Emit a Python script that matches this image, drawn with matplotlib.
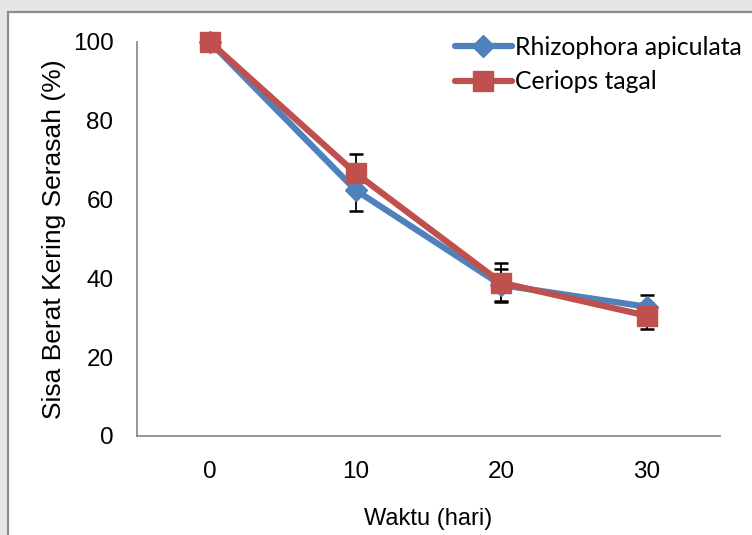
import matplotlib
matplotlib.use("Agg")
import matplotlib.pyplot as plt
from matplotlib.patches import Rectangle

days = ["0", "10", "20", "30"]
rhizophora = [100, 62.4, 38.3, 32.8]
rhizophora_err = [0, 5.3, 4.0, 3.0]
ceriops = [100, 66.7, 38.9, 30.5]
ceriops_err = [0, 4.9, 4.9, 3.3]

blue = "#4F81BD"
red = "#C0504D"

plt.rcParams["font.family"] = ["Liberation Sans", "DejaVu Sans"]

fig = plt.figure(figsize=(7.52, 5.35), dpi=100, facecolor="#e6e6e6")

# chart panel with its grey border
fig.patches.append(Rectangle((8 / 752, -0.1), 1.2, (535 - 12) / 535 + 0.1,
                             transform=fig.transFigure, facecolor="white",
                             edgecolor="#8c8c8c", linewidth=1.6, zorder=1))

ax = fig.add_axes([137 / 752, (535 - 436) / 535, (720 - 137) / 752, (436 - 42) / 535])
ax.set_facecolor("none")
ax.set_zorder(2)
x = list(range(len(days)))

ax.errorbar(x, rhizophora, yerr=rhizophora_err, fmt="none", ecolor="black",
            elinewidth=1.3, capsize=5, capthick=1.8, zorder=1)
ax.errorbar(x, ceriops, yerr=ceriops_err, fmt="none", ecolor="black",
            elinewidth=1.3, capsize=5, capthick=1.8, zorder=1)
ax.plot(x, rhizophora, color=blue, lw=4.5, marker="D", markersize=11,
        label="Rhizophora apiculata", zorder=3, solid_capstyle="round",
        clip_on=False)
ax.plot(x, ceriops, color=red, lw=4.5, marker="s", markersize=14,
        label="Ceriops tagal", zorder=4, solid_capstyle="round",
        clip_on=False)

ax.set_xlim(-0.5, 3.5)
ax.set_ylim(0, 100)
ax.set_xticks(x)
ax.set_xticklabels(days)
ax.set_yticks([0, 20, 40, 60, 80, 100])
ax.tick_params(length=0, labelsize=17.5)
ax.tick_params(axis="x", pad=18)
ax.tick_params(axis="y", pad=17)
for s in ["top", "right"]:
    ax.spines[s].set_visible(False)
for s in ["left", "bottom"]:
    ax.spines[s].set_color("#8c8c8c")
    ax.spines[s].set_linewidth(1.3)

ax.set_xlabel("Waktu (hari)", fontsize=17, labelpad=18)
ax.set_ylabel("Sisa Berat Kering Serasah (%)", fontsize=19, labelpad=5)

leg = fig.legend(loc="upper left", bbox_to_anchor=(455 / 752, 1 - 36 / 535),
                 frameon=False, borderpad=0, borderaxespad=0,
                 handlelength=2.3, handletextpad=0.12, labelspacing=0.46,
                 prop={"family": "Lato", "size": 17.8})

fig.savefig("out.png", dpi=100, facecolor=fig.get_facecolor())
